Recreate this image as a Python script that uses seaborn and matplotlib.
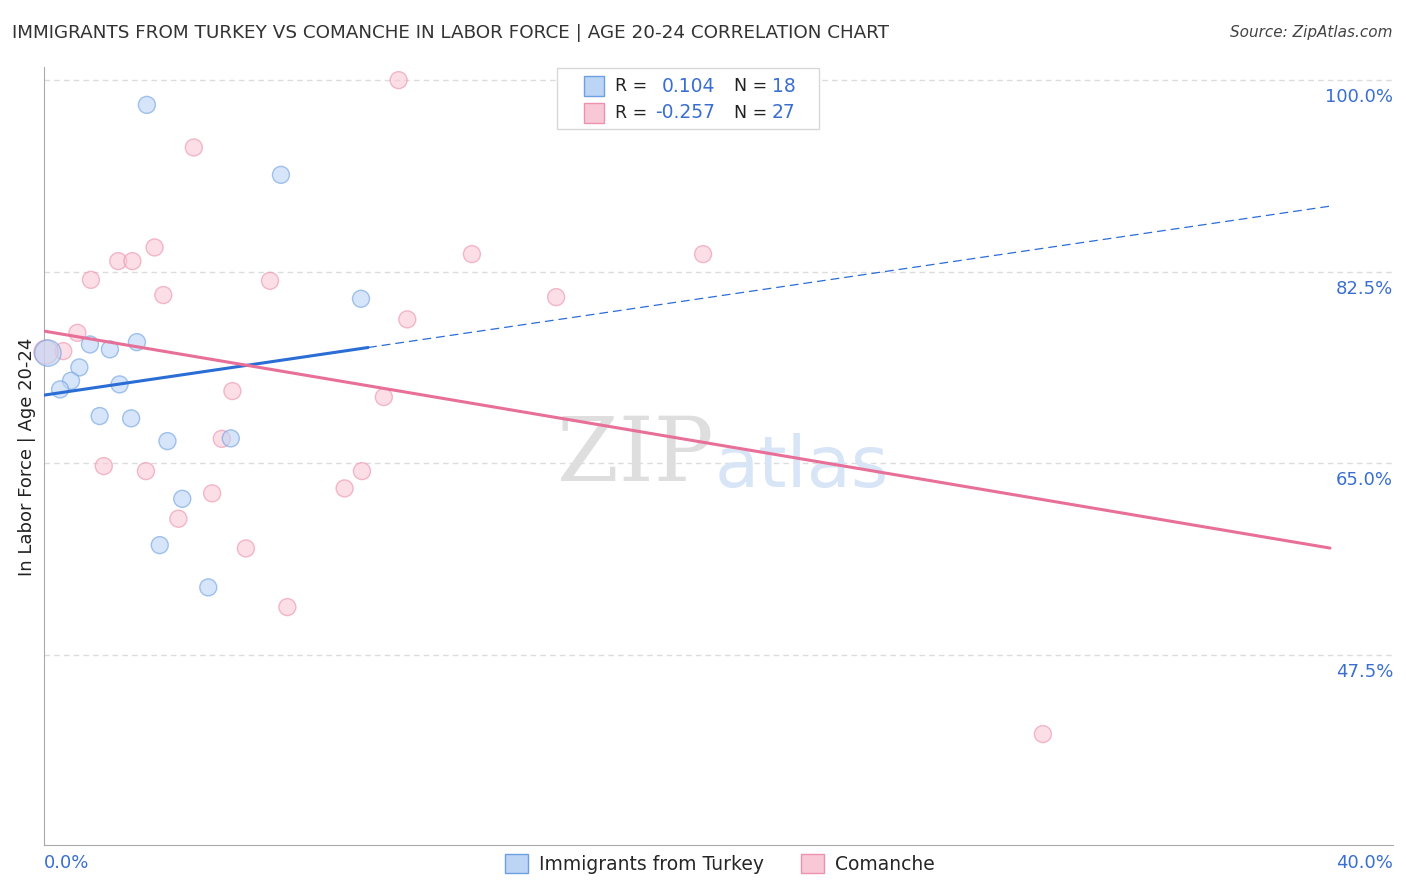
import numpy as np
import pandas as pd
import matplotlib
matplotlib.use("Agg")
import matplotlib.pyplot as plt
import seaborn as sns
from matplotlib.patches import Patch, Rectangle

# values (x = share of population %, y = in labor force %)
turkey_x = [3.20, 7.37, 9.86, 0.12, 1.43, 2.05, 2.89, 1.10, 0.84, 0.50, 2.35, 1.73, 2.71, 3.84, 5.81, 4.30, 3.60, 5.11]
turkey_y = [97.74, 91.35, 80.03, 75.07, 75.86, 75.41, 76.07, 73.76, 72.54, 71.75, 72.21, 69.32, 69.11, 67.03, 67.28, 61.76, 57.53, 53.67]
turkey_w = [1, 1, 1, 4, 1, 1, 1, 1, 1, 1, 1, 1, 1, 1, 1, 1, 1, 1]

comanche_x = [11.03, 4.66, 3.44, 2.31, 2.75, 1.46, 3.71, 7.03, 11.30, 1.04, 0.60, 5.86, 10.57, 5.53,
              1.86, 3.17, 9.89, 9.35, 5.23, 4.18, 6.28, 7.57, 13.31, 15.93, 20.50, 31.07, 0.06]
comanche_y = [100.0, 93.85, 84.72, 83.47, 83.47, 81.76, 80.37, 81.67, 78.15, 76.92, 75.25, 71.60, 71.05, 67.24,
              64.75, 64.29, 64.29, 62.71, 62.26, 59.94, 57.23, 51.87, 84.11, 80.18, 84.11, 40.27, 75.16]
comanche_w = [1] * 26 + [3]

# trend lines: value at x = 0% and x = 40%
turkey_fit = [71.23, 88.49]
turkey_solid_end = 10.08
comanche_fit = [77.08, 57.26]

stats = [("0.104", "18"), ("-0.257", "27")]
y_ticks = [47.5, 65.0, 82.5, 100.0]

BLUE_FILL = "#bcd5f5"
BLUE_EDGE = "#6d9fe2"
BLUE_LINE = "#2a6dd5"
PINK_FILL = "#f9c8d6"
PINK_EDGE = "#ec91ae"
PINK_LINE = "#e86f98"
TICK_BLUE = "#3a6fd0"

W, H = 1406, 892


def fx(px):
    return px / W


def fy(py):
    return 1 - py / H


sns.set_style("white")
plt.rcParams["font.family"] = ["DejaVu Sans"]

fig = plt.figure(figsize=(W / 100, H / 100), dpi=100)
ax = fig.add_axes([fx(44), fy(845), fx(1393) - fx(44), fy(67) - fy(845)])
ax.set_xlim(0, 41.96)
ax.set_ylim(30.14, 101.2)

df_t = pd.DataFrame({"x": turkey_x, "y": turkey_y, "w": turkey_w})
df_c = pd.DataFrame({"x": comanche_x, "y": comanche_y, "w": comanche_w})

# gridlines
for v in y_ticks:
    ax.axhline(v, color="#dcdcdc", lw=1, ls=(0, (4, 3)), zorder=0)

# watermark
ax.text(0.438, 0.50, "ZIP", transform=ax.transAxes, ha="center", va="center", fontsize=64,
        family="DejaVu Serif", color="#dedede", zorder=1)
ax.text(0.562, 0.485, "atlas", transform=ax.transAxes, ha="center", va="center", fontsize=52,
        color="#d8e5f7", zorder=1)

sns.scatterplot(data=df_c, x="x", y="y", size="w", sizes=(150, 300), size_norm=(1, 3),
                color=PINK_FILL, edgecolor=PINK_EDGE, linewidth=1.0, alpha=0.6,
                legend=False, ax=ax, zorder=3, clip_on=False)
sns.scatterplot(data=df_t, x="x", y="y", size="w", sizes=(150, 360), size_norm=(1, 4),
                color=BLUE_FILL, edgecolor=BLUE_EDGE, linewidth=1.0, alpha=0.6,
                legend=False, ax=ax, zorder=3, clip_on=False)

# trend lines
xs = np.array([0, 40])
slope_t = (turkey_fit[1] - turkey_fit[0]) / 40
ax.plot([0, turkey_solid_end], [turkey_fit[0], turkey_fit[0] + slope_t * turkey_solid_end],
        color=BLUE_LINE, lw=2.2, zorder=4)
ax.plot([turkey_solid_end, 40], [turkey_fit[0] + slope_t * turkey_solid_end, turkey_fit[1]],
        color=BLUE_LINE, lw=0.9, ls=(0, (7, 4)), zorder=4)
ax.plot(xs, comanche_fit, color=PINK_LINE, lw=2.2, zorder=4)

# axes styling
for s in ["top", "right"]:
    ax.spines[s].set_visible(False)
ax.spines["left"].set_color("#aaaaaa")
ax.spines["bottom"].set_color("#aaaaaa")
ax.set_xticks([4, 8, 12, 16, 24, 28, 32, 36])
ax.set_xticks([20, 40], minor=True)
ax.tick_params(axis="x", which="major", direction="in", length=13.5, color="#bbbbbb", labelbottom=False)
ax.tick_params(axis="x", which="minor", direction="in", length=27.5, color="#bbbbbb", labelbottom=False)
ax.set_yticks([])
ax.set_xlabel("")
ax.set_ylabel("")

# right-side y tick labels (sit just below their gridline)
for v in y_ticks:
    py = 80 + (100 - v) * 10.95 + 17
    fig.text(fx(1393), fy(py), f"{v:.1f}%", ha="right", va="center", color=TICK_BLUE, fontsize=13)

fig.text(fx(44), fy(863), "0.0%", ha="left", va="center", color=TICK_BLUE, fontsize=13)
fig.text(fx(1393), fy(863), "40.0%", ha="right", va="center", color=TICK_BLUE, fontsize=13)

fig.text(fx(27), fy(457), "In Labor Force | Age 20-24", rotation=90, ha="center", va="center",
         fontsize=13, color="#222222")

fig.text(fx(12), fy(33), "IMMIGRANTS FROM TURKEY VS COMANCHE IN LABOR FORCE | AGE 20-24 CORRELATION CHART",
         ha="left", va="center", fontsize=13.2, color="#333333")
fig.text(fx(1393), fy(33), "Source: ZipAtlas.com", ha="right", va="center", fontsize=11,
         style="italic", color="#444444")

# stats box
fig.patches.append(Rectangle((fx(557), fy(129)), fx(819) - fx(557), fy(68) - fy(129),
                             transform=fig.transFigure, facecolor="white", edgecolor="#d8d8d8",
                             lw=1, zorder=5))
for i, (r, n) in enumerate(stats):
    cy = 86 + i * 27
    fill, edge = (BLUE_FILL, BLUE_EDGE) if i == 0 else (PINK_FILL, PINK_EDGE)
    fig.patches.append(Rectangle((fx(584), fy(cy + 10)), fx(20), 20 / H, transform=fig.transFigure,
                                 facecolor=fill, edgecolor=edge, lw=1, zorder=6))
    fig.text(fx(615), fy(cy), "R =", ha="left", va="center", fontsize=12.5, color="#222222", zorder=7)
    fig.text(fx(715), fy(cy), r, ha="right", va="center", fontsize=13.5, color=TICK_BLUE, zorder=7)
    fig.text(fx(734), fy(cy), "N =", ha="left", va="center", fontsize=12.5, color="#222222", zorder=7)
    fig.text(fx(772), fy(cy), n, ha="left", va="center", fontsize=13.5, color=TICK_BLUE, zorder=7)

# bottom legend
handles = [Patch(facecolor=BLUE_FILL, edgecolor=BLUE_EDGE, label="Immigrants from Turkey"),
           Patch(facecolor=PINK_FILL, edgecolor=PINK_EDGE, label="Comanche")]
fig.legend(handles=handles, loc="center", bbox_to_anchor=(fx(720), fy(864)), ncol=2, frameon=False,
           fontsize=13.5, handlelength=1.2, handleheight=1.2, columnspacing=2.0, handletextpad=0.6)

fig.savefig("out.png", dpi=100)
